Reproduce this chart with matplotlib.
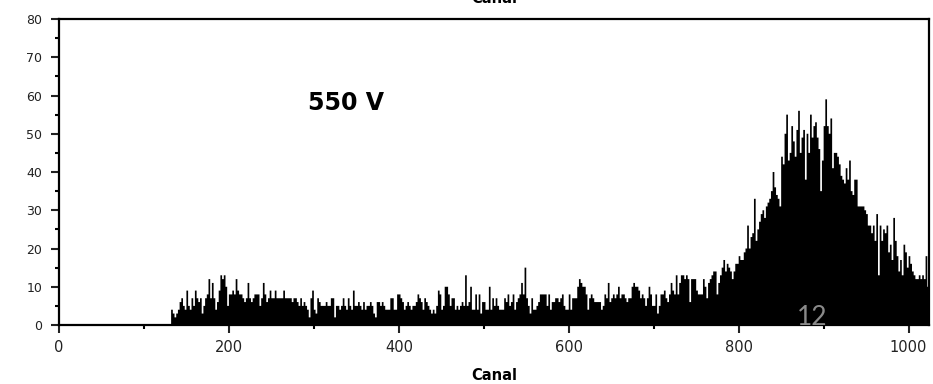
import numpy as np
import matplotlib
matplotlib.use("Agg")
import matplotlib.pyplot as plt

# spectre : coups par canal (canaux regroupes par 2), 550 V
largeur_canal = 2
premier_canal = 132
coups = [
    4, 3, 2, 3, 4, 6, 7, 5,
    4, 9, 5, 4, 7, 5, 9, 7,
    6, 7, 3, 5, 7, 8, 12, 7,
    11, 7, 4, 6, 9, 13, 12, 13,
    10, 5, 8, 8, 9, 8, 12, 9,
    8, 8, 7, 6, 7, 11, 7, 6,
    7, 8, 8, 8, 5, 7, 11, 8,
    6, 7, 9, 7, 7, 9, 7, 7,
    7, 7, 9, 7, 7, 7, 7, 6,
    7, 7, 6, 5, 7, 5, 6, 5,
    4, 2, 7, 9, 4, 3, 7, 6,
    5, 5, 5, 6, 5, 5, 7, 7,
    2, 5, 5, 4, 5, 7, 5, 4,
    7, 5, 4, 9, 5, 5, 6, 5,
    4, 6, 4, 5, 5, 6, 5, 3,
    2, 6, 6, 5, 6, 5, 4, 4,
    4, 7, 7, 4, 4, 8, 8, 7,
    6, 4, 5, 6, 5, 4, 5, 5,
    6, 8, 7, 6, 4, 7, 6, 5,
    4, 3, 4, 3, 5, 9, 8, 4,
    5, 10, 10, 8, 5, 7, 7, 4,
    5, 4, 5, 6, 5, 13, 5, 6,
    10, 4, 4, 8, 4, 8, 3, 6,
    6, 4, 4, 10, 4, 7, 5, 7,
    5, 4, 4, 4, 7, 6, 8, 5,
    6, 8, 4, 6, 7, 8, 11, 8,
    15, 7, 5, 3, 7, 4, 4, 5,
    6, 8, 8, 8, 8, 5, 8, 4,
    6, 6, 7, 7, 6, 7, 8, 5,
    4, 4, 8, 4, 7, 7, 7, 10,
    12, 11, 10, 10, 8, 4, 7, 8,
    7, 6, 6, 6, 6, 4, 5, 8,
    7, 11, 6, 7, 8, 7, 8, 10,
    7, 8, 8, 7, 6, 7, 7, 10,
    11, 10, 10, 9, 7, 8, 7, 5,
    7, 10, 8, 5, 5, 8, 3, 5,
    8, 8, 9, 7, 6, 8, 11, 9,
    8, 13, 8, 11, 13, 13, 12, 13,
    12, 6, 12, 12, 12, 9, 8, 8,
    8, 12, 10, 7, 11, 12, 13, 14,
    14, 8, 11, 13, 15, 17, 14, 16,
    15, 14, 12, 14, 16, 16, 18, 17,
    17, 19, 20, 26, 20, 23, 24, 33,
    22, 25, 27, 29, 30, 28, 31, 32,
    33, 35, 40, 36, 34, 33, 31, 44,
    42, 50, 55, 43, 45, 52, 48, 44,
    51, 56, 45, 49, 51, 38, 50, 45,
    55, 49, 52, 53, 49, 46, 35, 43,
    52, 59, 52, 50, 54, 41, 45, 45,
    44, 42, 39, 38, 37, 41, 38, 43,
    35, 34, 38, 38, 31, 31, 31, 31,
    30, 29, 26, 26, 24, 26, 22, 29,
    13, 26, 22, 25, 24, 26, 19, 21,
    17, 28, 22, 18, 14, 17, 13, 21,
    19, 15, 18, 16, 14, 13, 12, 12,
    13, 12, 13, 12, 18, 10,
]
tension = "550 V"
xticks = [0, 200, 400, 600, 800, 1000]
yticks = [0, 10, 20, 30, 40, 50, 60, 70, 80]

# rien avant le premier canal
n_vides = premier_canal // largeur_canal
valeurs = np.concatenate([np.zeros(n_vides), np.array(coups, dtype=float)])
bords = np.arange(len(valeurs) + 1) * largeur_canal

plt.rcParams['font.family'] = ['DejaVu Sans']

fig = plt.figure(figsize=(9.33, 3.84), dpi=100)
ax = fig.add_axes([0.0632, 0.1536, 0.9325, 0.7969])

ax.stairs(valeurs, bords, fill=True, color='black', linewidth=0)

ax.set_xlim(0, 1024)
ax.set_ylim(0, 80)
ax.set_xticks(xticks)
ax.set_yticks(yticks)
ax.set_xticks(np.arange(100, 1024, 200), minor=True)
ax.set_yticks(np.arange(5, 80, 10), minor=True)

for s in ax.spines.values():
    s.set_linewidth(1.6)
ax.tick_params(which='major', direction='out', length=6, width=1.5, colors='#222222')
ax.tick_params(which='minor', direction='out', length=3, width=1.5)
ax.tick_params(axis='x', labelsize=10.5, pad=5)
ax.tick_params(axis='y', labelsize=9, pad=6)

ax.set_xlabel('Canal', fontsize=10.5, fontweight='bold', labelpad=9)
# titre du haut (coupe par le bord de la figure)
fig.text(0.53, 0.985, 'Canal', ha='center', va='bottom', fontsize=10.5, fontweight='bold')

ax.text(293, 58, tension, fontsize=17, fontweight='bold', va='center', ha='left')

# numero de page
fig.text(0.8705, 0.172, '12', fontsize=19, color='#8a8a8a', family=['Lato'], ha='center', va='center')

fig.savefig('out.png', dpi=100)
